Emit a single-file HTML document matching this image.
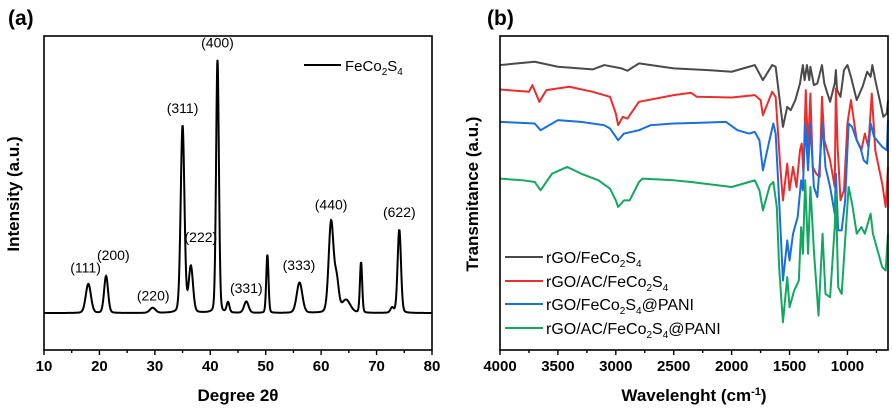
<!DOCTYPE html>
<html><head><meta charset="utf-8"><style>
html,body{margin:0;padding:0;background:#fff;}
svg{display:block;font-family:"Liberation Sans",Arial,sans-serif;}
</style></head><body>
<svg id="fig" width="892" height="413" viewBox="0 0 892 413">
<g id="pa"></g>
<g id="pb"></g>
</svg>
<script>
// ===== Panel (a) XRD data =====
const xrdPeakPos = [18.0, 21.2, 29.6, 35.0, 36.5, 41.3, 43.2, 46.5, 50.3, 56.1, 61.8, 62.8, 64.5, 67.2, 72.8, 74.1];
const xrdPeakHeight = [11.5, 14.6, 2, 74, 18, 100, 4, 4.5, 23, 12, 36, 12, 5, 20, 2, 33];
const xrdPeakWidth = [0.55, 0.42, 0.6, 0.4, 0.45, 0.3, 0.3, 0.48, 0.24, 0.6, 0.52, 0.45, 0.9, 0.24, 0.35, 0.36];
const xrdXTicks = [10, 20, 30, 40, 50, 60, 70, 80];
const xrdLabels = ["(111)", "(200)", "(220)", "(311)", "(222)", "(400)", "(331)", "(333)", "(440)", "(622)"];
const xrdLabelX = [17.5, 22.5, 29.7, 35.0, 38.3, 41.3, 46.5, 56.0, 61.8, 74.1];
const xrdLabelY = [16, 21, 5, 79, 28, 105, 8, 17, 41, 38];

// ===== Panel (b) FTIR data: [wavenumber, transmittance] =====
const ftirNames = ["rGO/FeCo2S4", "rGO/AC/FeCo2S4", "rGO/FeCo2S4@PANI", "rGO/AC/FeCo2S4@PANI"];
const ftirColors = ["#4a4a4a", "#ee2c2c", "#1a6fe0", "#12a860"];
const ftirBlack = [[4000,80.5],[3700,81.5],[3500,80],[3200,79.2],[3100,80.5],[2950,79.5],[2900,78.8],[2800,81],[2500,79.5],[2200,79],[2000,78.5],[1850,80],[1800,80.5],[1730,76],[1650,80.5],[1620,80],[1557,62],[1520,68],[1490,67],[1450,70],[1410,75],[1385,80.5],[1370,76],[1350,80.5],[1330,76],[1320,80],[1290,74.5],[1260,75],[1220,80.5],[1200,75],[1150,69.5],[1110,75],[1100,79],[1090,73],[1060,71],[1030,79],[1000,80.5],[970,77],[920,70],[870,74],[830,78.5],[800,77],[785,80.5],[760,76],[690,65],[660,66],[650,70]];
const ftirRed = [[4000,73.2],[3750,72.5],[3720,74.5],[3660,69.5],[3600,73],[3400,74],[3200,72.5],[3050,71],[3000,66],[2980,62.5],[2940,65],[2900,64.5],[2850,67],[2800,69.5],[2500,71.5],[2350,72.2],[2300,71],[2000,70.8],[1800,71.5],[1750,70],[1730,65.5],[1650,72.5],[1620,71],[1580,50],[1557,40],[1520,51],[1500,43],[1470,50],[1440,44],[1410,55],[1395,57],[1380,48],[1360,73],[1340,55],[1320,72],[1300,50],[1270,48],[1240,47],[1220,71],[1200,58],[1150,52],[1110,44],[1100,73.5],[1085,56],[1060,40],[1030,43],[1000,63],[970,70],[920,58],[880,55],[850,60],[820,56],[790,72],[760,55],[700,45],[670,38],[650,50]];
const ftirBlue = [[4000,63.5],[3700,63],[3650,61],[3500,64],[3300,63.5],[3100,62.5],[3050,61.5],[2980,58],[2930,60],[2800,61],[2700,62.5],[2500,63],[2300,63.2],[2050,63.5],[1950,61],[1850,60],[1800,60.5],[1760,58],[1730,49],[1680,57],[1640,63],[1620,60],[1590,40],[1557,16],[1520,28],[1500,22],[1470,30],[1430,35],[1400,46],[1385,43],[1365,63],[1340,49],[1320,63],[1290,44],[1260,41],[1215,63],[1190,50],[1150,44],[1110,36],[1100,48],[1080,31],[1050,31],[1020,40],[990,63],[960,62],[920,58],[890,56],[860,52],[830,51],[800,63],[770,59],[700,56],[660,55],[650,64]];
const ftirGreen = [[4000,46.5],[3800,46],[3700,45.5],[3650,43],[3550,48],[3420,50],[3300,48],[3150,46],[3050,43.5],[3000,40],[2980,38],[2930,40],[2880,40],[2800,45.5],[2770,46.5],[2500,46],[2350,45.5],[2000,44],[1850,45.5],[1800,46],[1760,43],[1730,37],[1670,44.5],[1640,45.5],[1610,38],[1590,20],[1557,3.5],[1520,17],[1500,8],[1460,13],[1420,16],[1400,32],[1385,24],[1365,46],[1340,24],[1320,44],[1290,25],[1250,5.5],[1215,30],[1190,12],[1150,11],[1110,32],[1100,42],[1080,14],[1050,12],[1020,28],[990,44],[960,39],[920,30],[880,32],[850,30],[800,36],[780,30],[700,20],[670,19],[650,30]];
const ftirXTicks = [4000, 3500, 3000, 2500, 2000, 1500, 1000];

const NS = "http://www.w3.org/2000/svg";
function mk(parent, tag, attrs, text){
  const e = document.createElementNS(NS, tag);
  for (const k in attrs) e.setAttribute(k, attrs[k]);
  if (text !== undefined) e.textContent = text;
  parent.appendChild(e);
  return e;
}

// ---------- Panel A ----------
const pa = document.getElementById('pa');
const aL=44, aR=432, aT=36, aB=350;
const ax = v => aL + (v-10)/(80-10)*(aR-aL);
const ay = v => aB - (v-(-14.6))/(109.5-(-14.6))*(aB-aT);
let t = mk(pa,'text',{x:8,y:25,'font-size':21,'font-weight':'bold'},'(a)');


let pts=[];
for(let x=10;x<=80.001;x+=0.05){
  let I=0;
  for(let i=0;i<xrdPeakPos.length;i++){
    const d=(x-xrdPeakPos[i])/xrdPeakWidth[i];
    I+=xrdPeakHeight[i]*(0.85*Math.exp(-0.693*d*d)+0.15/(1+d*d));
  }
  pts.push(ax(x).toFixed(2)+','+ay(I).toFixed(2));
}
let l = mk(pa,'polyline',{points:pts.join(' '),fill:'none',stroke:'#000','stroke-width':2});


let r = mk(pa,'rect',{x:aL,y:aT,width:aR-aL,height:aB-aT,fill:'none',stroke:'#000','stroke-width':1.6});


for(let v=10; v<=80; v+=5){
  const maj = v%10===0;
  mk(pa,'line',{x1:ax(v),x2:ax(v),y1:aB,y2:aB+(maj?5:3),stroke:'#000','stroke-width':1.4});
}
xrdXTicks.forEach(v=>{
  const e = mk(pa,'text',{x:ax(v),y:aB+21,'font-size':15,'font-weight':'bold','text-anchor':'middle'},String(v));
  
  
});
xrdLabels.forEach((s,i)=>{
  const e = mk(pa,'text',{x:ax(xrdLabelX[i]),y:ay(xrdLabelY[i]),'font-size':14,'text-anchor':'middle'},s);
  
  
});
t = mk(pa,'text',{x:238,y:401,'font-size':17,'font-weight':'bold','text-anchor':'middle'},'Degree 2\u03b8');


t = mk(pa,'text',{x:0,y:0,'font-size':17,'font-weight':'bold','text-anchor':'middle',transform:'translate(19,194) rotate(-90)'},'Intensity (a.u.)');


let lg = mk(pa,'g',{});


mk(lg,'line',{x1:304,x2:341,y1:65,y2:65,stroke:'#000','stroke-width':2});
t = mk(lg,'text',{x:345,y:71,'font-size':15});
t.innerHTML='FeCo<tspan font-size="10" dy="4">2</tspan><tspan dy="-4">S</tspan><tspan font-size="10" dy="4">4</tspan>';

// ---------- Panel B ----------
const pb = document.getElementById('pb');
const bL=500, bR=888, bT=36, bB=350;
const bx = v => bL + (4000-v)/(4000-650)*(bR-bL);
const by = v => bB - (v-(-4.8))/(89.2-(-4.8))*(bB-bT);
t = mk(pb,'text',{x:487,y:25,'font-size':21,'font-weight':'bold'},'(b)');


[ftirBlack, ftirRed, ftirBlue, ftirGreen].forEach((s,i)=>{
  const p = mk(pb,'polyline',{points:s.map(d=>bx(d[0]).toFixed(2)+','+by(d[1]).toFixed(2)).join(' '),fill:'none',stroke:ftirColors[i],'stroke-width':2,'stroke-linejoin':'round'});
  
  
});
r = mk(pb,'rect',{x:bL,y:bT,width:bR-bL,height:bB-bT,fill:'none',stroke:'#000','stroke-width':1.6});


for(let v=4000; v>=750; v-=250){
  const maj = v%500===0;
  mk(pb,'line',{x1:bx(v),x2:bx(v),y1:bB,y2:bB+(maj?5:3),stroke:'#000','stroke-width':1.4});
}
ftirXTicks.forEach(v=>{
  const e = mk(pb,'text',{x:bx(v),y:bB+21,'font-size':15,'font-weight':'bold','text-anchor':'middle'},String(v));
  
  
});
t = mk(pb,'text',{x:694,y:401,'font-size':17,'font-weight':'bold','text-anchor':'middle'});
t.innerHTML='Wavelenght (cm<tspan font-size="11" dy="-6">-1</tspan><tspan dy="6">)</tspan>';


t = mk(pb,'text',{x:0,y:0,'font-size':17,'font-weight':'bold','text-anchor':'middle',transform:'translate(478,194) rotate(-90)'},'Transmitance (a.u.)');


const legY=[257,281,304,328];
const legHTML=['rGO/FeCo<tspan font-size="10" dy="4">2</tspan><tspan dy="-4">S</tspan><tspan font-size="10" dy="4">4</tspan>',
 'rGO/AC/FeCo<tspan font-size="10" dy="4">2</tspan><tspan dy="-4">S</tspan><tspan font-size="10" dy="4">4</tspan>',
 'rGO/FeCo<tspan font-size="10" dy="4">2</tspan><tspan dy="-4">S</tspan><tspan font-size="10" dy="4">4</tspan><tspan dy="-4">@PANI</tspan>',
 'rGO/AC/FeCo<tspan font-size="10" dy="4">2</tspan><tspan dy="-4">S</tspan><tspan font-size="10" dy="4">4</tspan><tspan dy="-4">@PANI</tspan>'];
ftirNames.forEach((n,i)=>{
  const g = mk(pb,'g',{});
  
  
  mk(g,'line',{x1:505,x2:543,y1:legY[i],y2:legY[i],stroke:ftirColors[i],'stroke-width':2});
  const tx = mk(g,'text',{x:546,y:legY[i]+6,'font-size':16});
  tx.innerHTML = legHTML[i];
});
</script>
</body></html>
